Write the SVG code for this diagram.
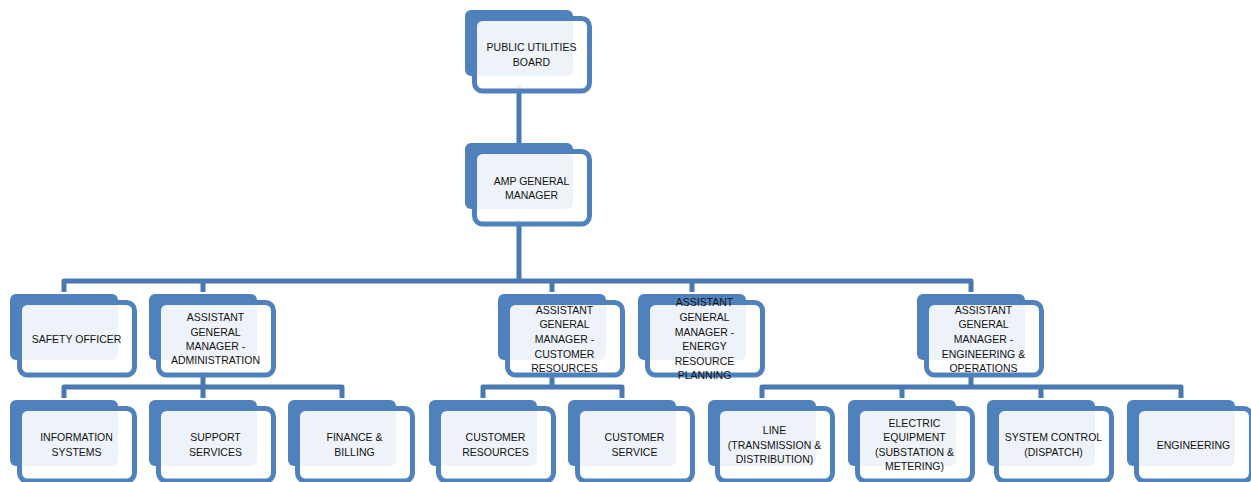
<svg xmlns="http://www.w3.org/2000/svg" width="1251" height="482" viewBox="0 0 1251 482">
<style>
.bk{fill:#4F81BD}
.fr{fill:#FFFFFF;fill-opacity:0.9;stroke:#4F81BD;stroke-width:5}
.cn{fill:none;stroke:#4A78B2;stroke-width:5;stroke-linejoin:round}
text{font-family:"Liberation Sans",Arial,sans-serif;font-size:10.5px;fill:#111;text-anchor:middle}
</style>
<rect width="1251" height="482" fill="#FFFFFF"/>
<g id="connectors">
<path class="cn" d="M519 85 V152"/>
<path class="cn" d="M519 220 V281"/>
<path class="cn" d="M64 292 V281 H971 V292"/>
<path class="cn" d="M203 281 V292 M552 281 V292 M692 281 V292"/>
<path class="cn" d="M203 372 V387"/>
<path class="cn" d="M64 398 V387 H342 V398 M203 387 V398"/>
<path class="cn" d="M552 372 V387"/>
<path class="cn" d="M483 398 V387 H622 V398"/>
<path class="cn" d="M971 372 V387"/>
<path class="cn" d="M762 398 V387 H1181 V398 M902 387 V398 M1041 387 V398"/>
</g>
<g id="board">
<rect class="bk" x="465" y="10" width="108" height="66" rx="6"/>
<rect class="fr" x="474.5" y="18.5" width="115" height="72.5" rx="8"/>
<text x="531.5"><tspan x="531.5" y="51.3">PUBLIC UTILITIES</tspan><tspan x="531.5" y="65.9">BOARD</tspan></text>
</g>
<g id="amp">
<rect class="bk" x="465" y="143" width="108" height="66" rx="6"/>
<rect class="fr" x="474.5" y="151.5" width="115" height="72.5" rx="8"/>
<text><tspan x="531.5" y="184.5">AMP GENERAL</tspan><tspan x="531.5" y="199.1">MANAGER</tspan></text>
</g>
<g id="safety">
<rect class="bk" x="10" y="294" width="108" height="66" rx="6"/>
<rect class="fr" x="19.5" y="302.5" width="115" height="72.5" rx="8"/>
<text><tspan x="76.5" y="342.5">SAFETY OFFICER</tspan></text>
</g>
<g id="agm-admin">
<rect class="bk" x="149" y="294" width="108" height="66" rx="6"/>
<rect class="fr" x="158.5" y="302.5" width="115" height="72.5" rx="8"/>
<text><tspan x="215.5" y="321.1">ASSISTANT</tspan><tspan x="215.5" y="335.5">GENERAL</tspan><tspan x="215.5" y="349.9">MANAGER -</tspan><tspan x="215.5" y="364.3">ADMINISTRATION</tspan></text>
</g>
<g id="agm-customer">
<rect class="bk" x="498" y="294" width="108" height="66" rx="6"/>
<rect class="fr" x="507.5" y="302.5" width="115" height="72.5" rx="8"/>
<text><tspan x="564.5" y="313.7">ASSISTANT</tspan><tspan x="564.5" y="328.3">GENERAL</tspan><tspan x="564.5" y="342.9">MANAGER -</tspan><tspan x="564.5" y="357.5">CUSTOMER</tspan><tspan x="564.5" y="372.1">RESOURCES</tspan></text>
</g>
<g id="agm-energy">
<rect class="bk" x="638" y="294" width="108" height="66" rx="6"/>
<rect class="fr" x="647.5" y="302.5" width="115" height="72.5" rx="8"/>
<text><tspan x="704.5" y="306.4">ASSISTANT</tspan><tspan x="704.5" y="321">GENERAL</tspan><tspan x="704.5" y="335.6">MANAGER -</tspan><tspan x="704.5" y="350.2">ENERGY</tspan><tspan x="704.5" y="364.8">RESOURCE</tspan><tspan x="704.5" y="379.4">PLANNING</tspan></text>
</g>
<g id="agm-engineering">
<rect class="bk" x="917" y="294" width="108" height="66" rx="6"/>
<rect class="fr" x="926.5" y="302.5" width="115" height="72.5" rx="8"/>
<text><tspan x="983.5" y="313.7">ASSISTANT</tspan><tspan x="983.5" y="328.3">GENERAL</tspan><tspan x="983.5" y="342.9">MANAGER -</tspan><tspan x="983.5" y="357.5">ENGINEERING &amp;</tspan><tspan x="983.5" y="372.1">OPERATIONS</tspan></text>
</g>
<g id="info-systems">
<rect class="bk" x="10" y="400" width="108" height="66" rx="6"/>
<rect class="fr" x="19.5" y="408.5" width="115" height="72.5" rx="8"/>
<text><tspan x="76.5" y="441.2">INFORMATION</tspan><tspan x="76.5" y="455.8">SYSTEMS</tspan></text>
</g>
<g id="support-services">
<rect class="bk" x="149" y="400" width="108" height="66" rx="6"/>
<rect class="fr" x="158.5" y="408.5" width="115" height="72.5" rx="8"/>
<text><tspan x="215.5" y="441.2">SUPPORT</tspan><tspan x="215.5" y="455.8">SERVICES</tspan></text>
</g>
<g id="finance-billing">
<rect class="bk" x="288" y="400" width="108" height="66" rx="6"/>
<rect class="fr" x="297.5" y="408.5" width="115" height="72.5" rx="8"/>
<text><tspan x="354.5" y="441.2">FINANCE &amp;</tspan><tspan x="354.5" y="455.8">BILLING</tspan></text>
</g>
<g id="customer-resources">
<rect class="bk" x="429" y="400" width="108" height="66" rx="6"/>
<rect class="fr" x="438.5" y="408.5" width="115" height="72.5" rx="8"/>
<text><tspan x="495.5" y="441.2">CUSTOMER</tspan><tspan x="495.5" y="455.8">RESOURCES</tspan></text>
</g>
<g id="customer-service">
<rect class="bk" x="568" y="400" width="108" height="66" rx="6"/>
<rect class="fr" x="577.5" y="408.5" width="115" height="72.5" rx="8"/>
<text><tspan x="634.5" y="441.2">CUSTOMER</tspan><tspan x="634.5" y="455.8">SERVICE</tspan></text>
</g>
<g id="line">
<rect class="bk" x="708" y="400" width="108" height="66" rx="6"/>
<rect class="fr" x="717.5" y="408.5" width="115" height="72.5" rx="8"/>
<text><tspan x="774.5" y="433.9">LINE</tspan><tspan x="774.5" y="448.5">(TRANSMISSION &amp;</tspan><tspan x="774.5" y="463.1">DISTRIBUTION)</tspan></text>
</g>
<g id="electric-equipment">
<rect class="bk" x="848" y="400" width="108" height="66" rx="6"/>
<rect class="fr" x="857.5" y="408.5" width="115" height="72.5" rx="8"/>
<text><tspan x="914.5" y="426.6">ELECTRIC</tspan><tspan x="914.5" y="441.2">EQUIPMENT</tspan><tspan x="914.5" y="455.8">(SUBSTATION &amp;</tspan><tspan x="914.5" y="470.4">METERING)</tspan></text>
</g>
<g id="system-control">
<rect class="bk" x="987" y="400" width="108" height="66" rx="6"/>
<rect class="fr" x="996.5" y="408.5" width="115" height="72.5" rx="8"/>
<text><tspan x="1053.5" y="441.2">SYSTEM CONTROL</tspan><tspan x="1053.5" y="455.8">(DISPATCH)</tspan></text>
</g>
<g id="engineering">
<rect class="bk" x="1127" y="400" width="108" height="66" rx="6"/>
<rect class="fr" x="1136.5" y="408.5" width="115" height="72.5" rx="8"/>
<text><tspan x="1193.5" y="448.5">ENGINEERING</tspan></text>
</g>
</svg>
